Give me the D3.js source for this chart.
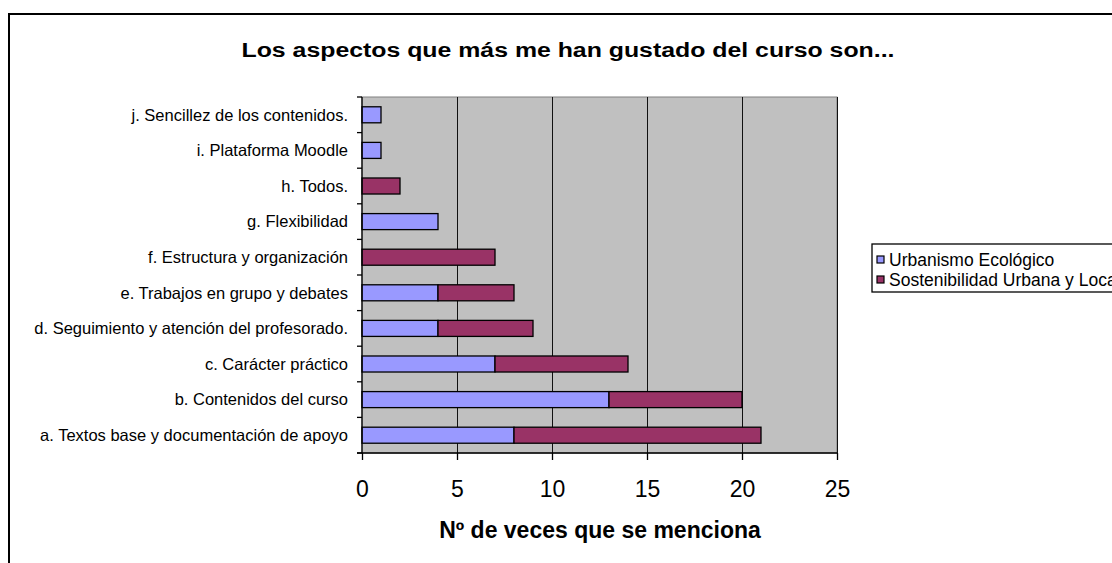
<!DOCTYPE html>
<html>
<head>
<meta charset="utf-8">
<script src="https://cdn.jsdelivr.net/npm/d3@7"></script>
<style>
  body { margin: 0; background: #fff; }
  text { font-family: "Liberation Sans", Arial, sans-serif; }
</style>
</head>
<body>
<div id="chart"></div>
<script>
var categories = [
  'j. Sencillez de los contenidos.',
  'i. Plataforma Moodle',
  'h. Todos.',
  'g. Flexibilidad',
  'f. Estructura y organización',
  'e. Trabajos en grupo y debates',
  'd. Seguimiento y atención del profesorado.',
  'c. Carácter práctico',
  'b. Contenidos del curso',
  'a. Textos base y documentación de apoyo'
]
var urbanismo = [1, 1, 0, 4, 0, 4, 4, 7, 13, 8]
var sostenibilidad = [0, 0, 2, 0, 7, 4, 5, 7, 7, 13]
var seriesNames = ['Urbanismo Ecológico', 'Sostenibilidad Urbana y Local']
var xTicks = [0, 5, 10, 15, 20, 25]

var colors = ['#9999FF', '#993366']

var svg = d3
  .select('#chart')
  .append('svg')
  .attr('width', 1112)
  .attr('height', 563)

// outer chart border (runs past the window on the right and bottom)
svg
  .append('rect')
  .attr('x', 9)
  .attr('y', 14)
  .attr('width', 1200)
  .attr('height', 600)
  .attr('fill', 'none')
  .attr('stroke', '#000')
  .attr('stroke-width', 2)

var plot = { left: 362, top: 97, right: 837, bottom: 453 }

var x = d3.scaleLinear().domain([0, 25]).range([plot.left, plot.right])
var y = d3
  .scaleBand()
  .domain(categories)
  .range([plot.top, plot.bottom])
  .paddingInner(0.55)
  .paddingOuter(0.275)

var rows = categories.map(function(c, i) {
  return { cat: c, a: urbanismo[i], b: sostenibilidad[i] }
})
var stacked = d3.stack().keys(['a', 'b'])(rows)

svg
  .append('rect')
  .attr('x', plot.left)
  .attr('y', plot.top)
  .attr('width', plot.right - plot.left)
  .attr('height', plot.bottom - plot.top)
  .attr('fill', '#C0C0C0')
  .attr('stroke', '#808080')
  .attr('stroke-width', 1)

// gridlines
svg
  .selectAll('.grid')
  .data(xTicks.slice(1))
  .enter()
  .append('line')
  .attr('x1', d => x(d))
  .attr('x2', d => x(d))
  .attr('y1', plot.top)
  .attr('y2', plot.bottom)
  .attr('stroke', '#111')
  .attr('stroke-width', 1)
  .attr('shape-rendering', 'crispEdges')

// bars
svg
  .selectAll('.series')
  .data(stacked)
  .enter()
  .append('g')
  .attr('fill', (d, i) => colors[i])
  .selectAll('rect')
  .data(d => d.filter(p => p[1] - p[0] > 0))
  .enter()
  .append('rect')
  .attr('x', d => x(d[0]))
  .attr('width', d => x(d[1]) - x(d[0]))
  .attr('y', d => y(d.data.cat))
  .attr('height', y.bandwidth())
  .attr('stroke', '#000')
  .attr('stroke-width', 1.3)

// x axis
var xAxis = svg
  .append('g')
  .attr('transform', 'translate(0,' + plot.bottom + ')')
  .call(d3.axisBottom(x).tickValues(xTicks).tickSize(7).tickPadding(0))
xAxis.select('.domain').attr('stroke', '#000').attr('stroke-width', 1.3)
  .attr('d', 'M' + (plot.left - 5) + ',0H' + plot.right)
xAxis.selectAll('line').attr('stroke-width', 1.3)
xAxis.selectAll('text')
  .attr('y', 44)
  .attr('dy', null)
  .attr('font-size', 23)
  .attr('fill', '#000')
  .style('font-family', '"Liberation Sans", Arial, sans-serif')

// y axis line and ticks at category boundaries
svg
  .append('line')
  .attr('x1', plot.left)
  .attr('x2', plot.left)
  .attr('y1', plot.top)
  .attr('y2', plot.bottom)
  .attr('stroke', '#000')
  .attr('stroke-width', 1.3)

svg
  .selectAll('.ytick')
  .data(d3.range(categories.length + 1))
  .enter()
  .append('line')
  .attr('x1', plot.left - 5)
  .attr('x2', plot.left)
  .attr('y1', i => plot.top + i * y.step())
  .attr('y2', i => plot.top + i * y.step())
  .attr('stroke', '#000')
  .attr('stroke-width', 1.3)

svg
  .selectAll('.ylabel')
  .data(categories)
  .enter()
  .append('text')
  .attr('x', plot.left - 14)
  .attr('y', d => y(d) + y.bandwidth() / 2)
  .attr('dy', '0.35em')
  .attr('text-anchor', 'end')
  .attr('font-size', 16.5)
  .text(d => d)

// title
svg
  .append('text')
  .attr('x', 568)
  .attr('y', 57)
  .attr('text-anchor', 'middle')
  .attr('font-size', 20)
  .attr('font-weight', 'bold')
  .attr('textLength', 653)
  .attr('lengthAdjust', 'spacingAndGlyphs')
  .text('Los aspectos que más me han gustado del curso son...')

svg
  .append('text')
  .attr('x', 600)
  .attr('y', 538)
  .attr('text-anchor', 'middle')
  .attr('font-size', 23)
  .attr('font-weight', 'bold')
  .text('Nº de veces que se menciona')

// legend
var legend = svg.append('g').attr('transform', 'translate(872,244)')
legend
  .append('rect')
  .attr('x', 0)
  .attr('y', 0)
  .attr('width', 300)
  .attr('height', 48)
  .attr('fill', '#fff')
  .attr('stroke', '#000')
  .attr('stroke-width', 1.3)
legend
  .selectAll('.item')
  .data(seriesNames)
  .enter()
  .append('g')
  .attr('transform', (d, i) => 'translate(5,' + (16 + i * 20) + ')')
  .each(function(d, i) {
    var g = d3.select(this)
    g.append('rect')
      .attr('x', 0)
      .attr('y', -4)
      .attr('width', 7)
      .attr('height', 7)
      .attr('fill', colors[i])
      .attr('stroke', '#000')
      .attr('stroke-width', 1.2)
    g.append('text')
      .attr('x', 12)
      .attr('y', 0)
      .attr('dy', '0.35em')
      .attr('font-size', 17.5)
      .text(d)
  })
</script>
</body>
</html>
